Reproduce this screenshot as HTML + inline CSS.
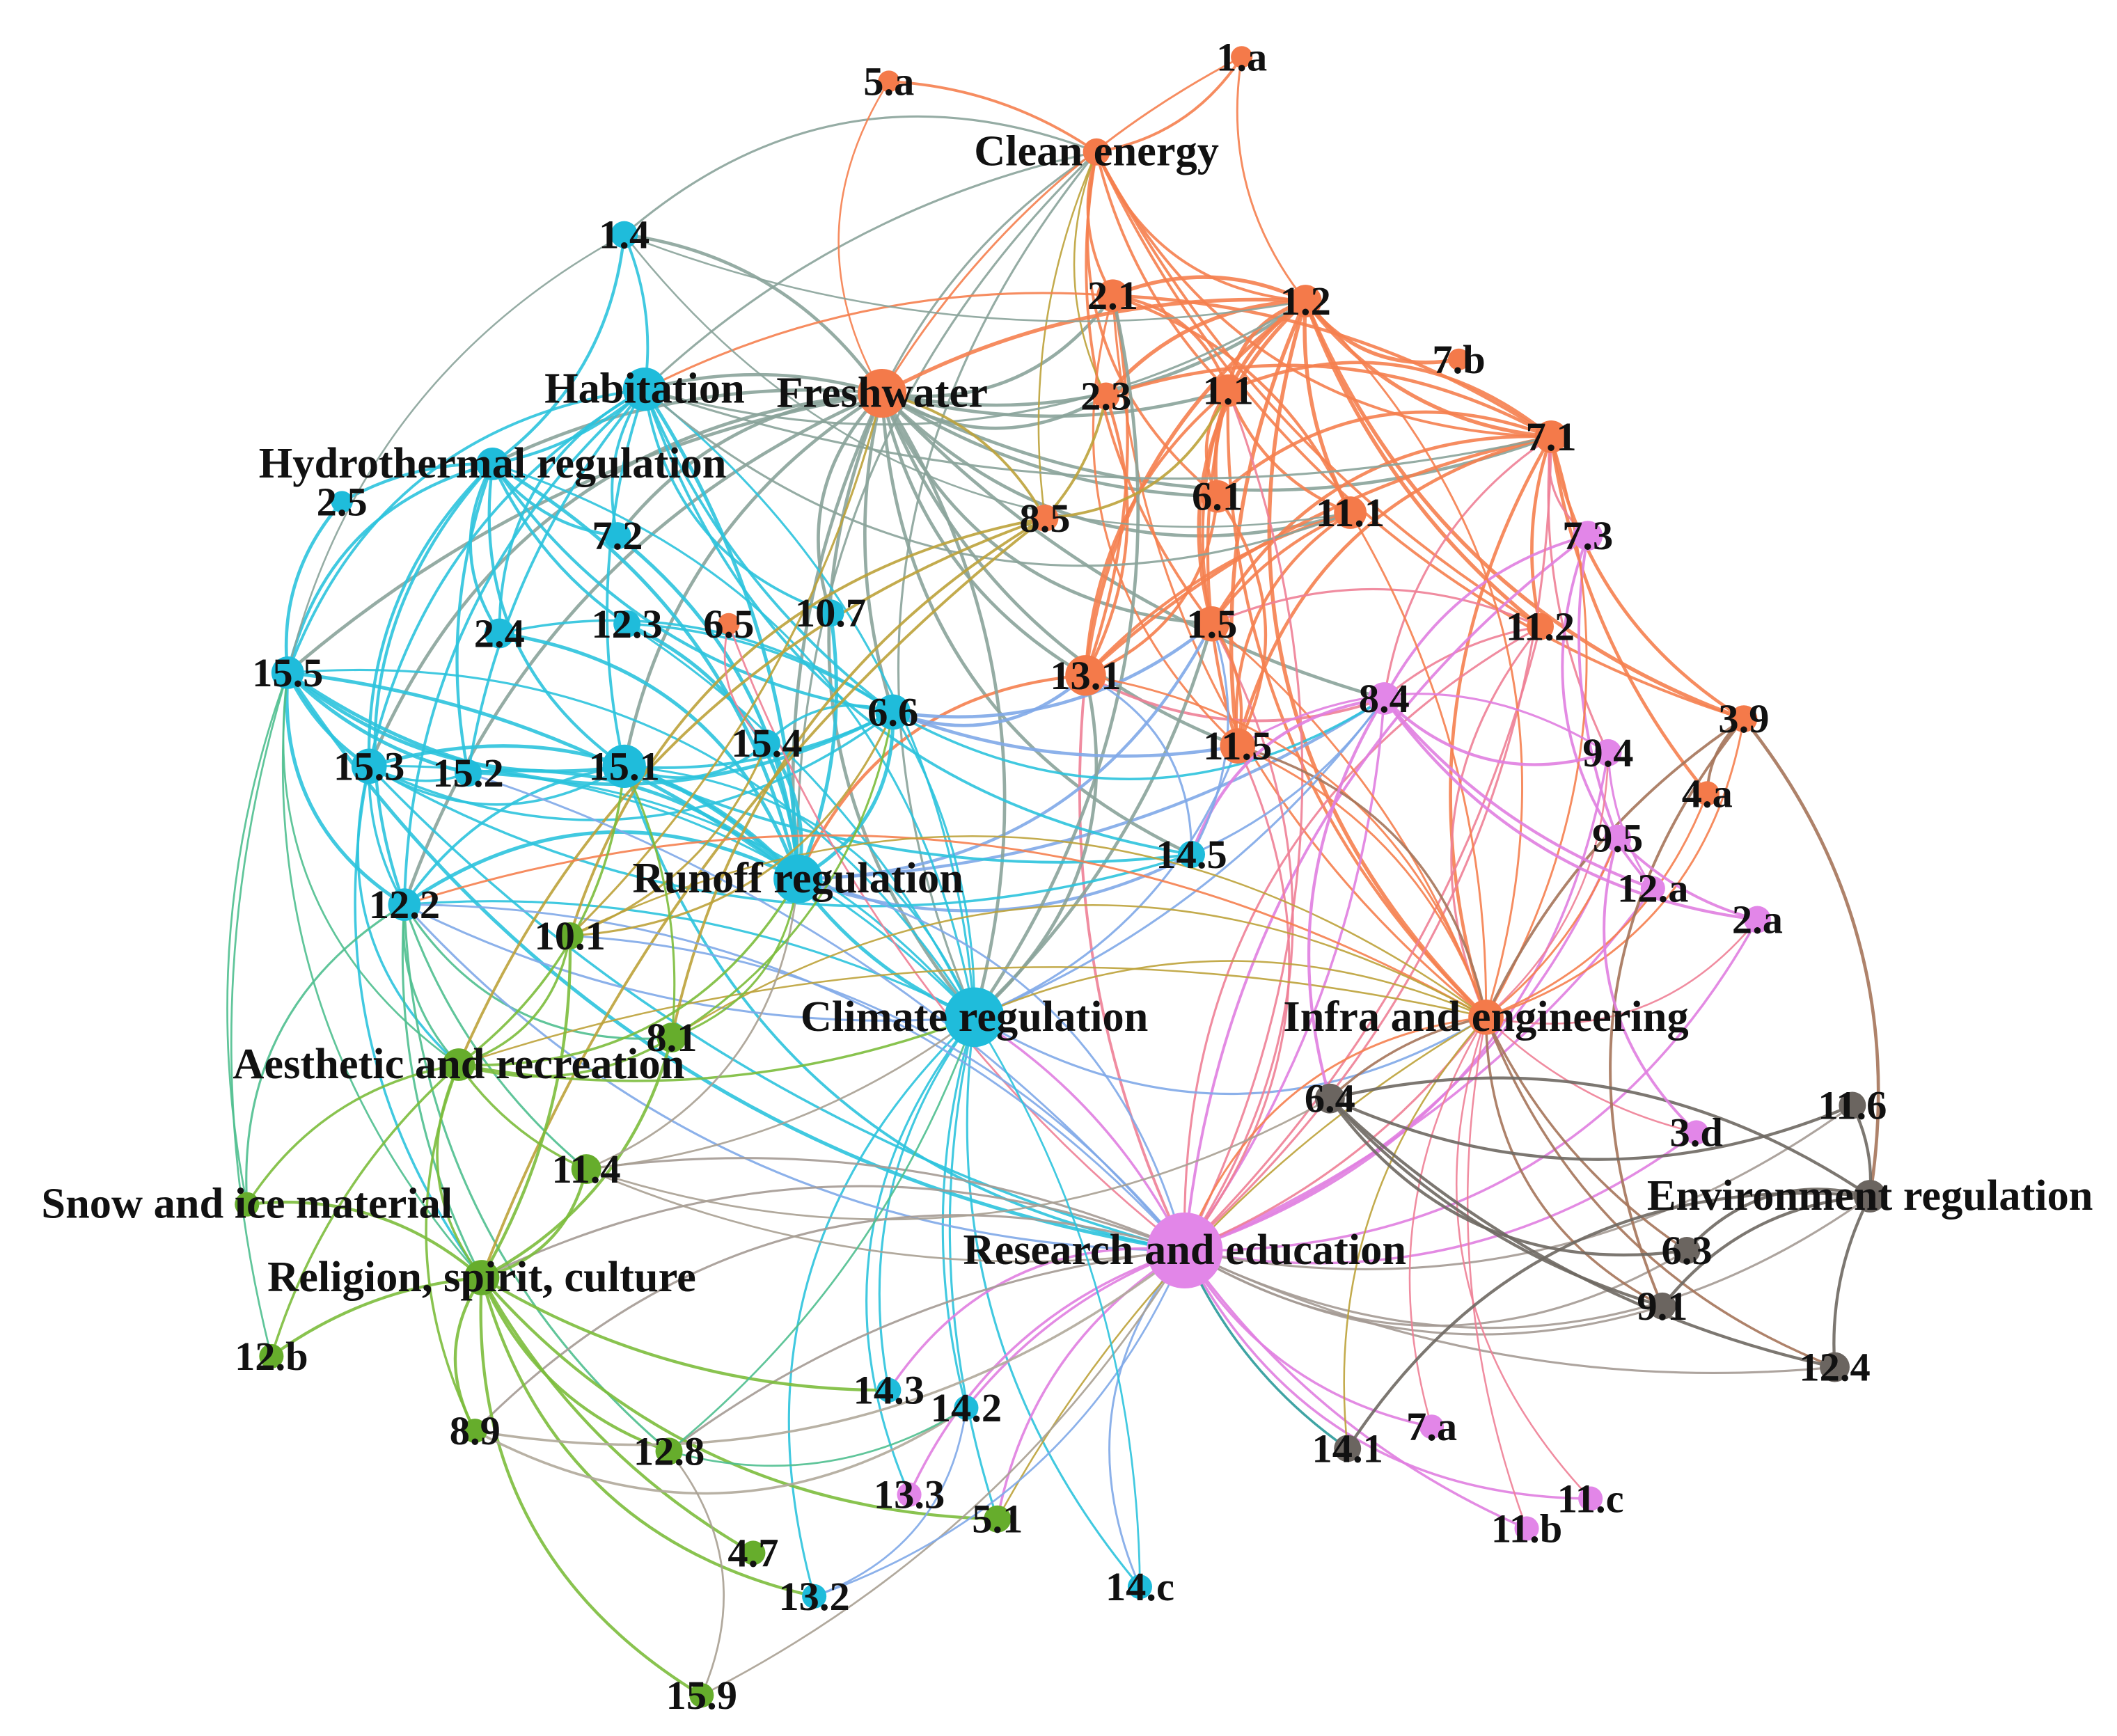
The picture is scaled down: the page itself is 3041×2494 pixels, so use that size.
<!DOCTYPE html>
<html><head><meta charset="utf-8"><style>
html,body{margin:0;padding:0;background:#fff;}
svg{display:block;}
text{font-family:"Liberation Serif",serif;font-weight:bold;fill:#111;}
</style></head><body>
<svg id="g" width="3041" height="2494" viewBox="0 0 1560 1280" preserveAspectRatio="none" xmlns="http://www.w3.org/2000/svg">
<g id="edges" fill="none" stroke-linecap="round"></g>
<g id="nodes"></g>
<g id="labels"></g>
</svg>
<script>
var C={o:"#f47a4a",c:"#1fbcdb",g:"#66ad2c",v:"#e286e8",k:"#6b6560"};
var N={
"5.a":[655,60,8,"o"],"1.a":[915,42,8,"o"],"Clean energy":[808,112,10,"o"],"Freshwater":[650,290,18,"o"],
"2.1":[820,218,12,"o"],"1.2":[962,222,12,"o"],"1.1":[905,288,12,"o"],"2.3":[815,292,10,"o"],"7.b":[1075,265,8,"o"],
"7.1":[1143,322,12,"o"],"6.1":[897,366,12,"o"],"11.1":[995,378,12,"o"],"8.5":[770,382,10,"o"],"1.5":[893,460,13,"o"],
"11.2":[1135,462,10,"o"],"13.1":[800,498,15,"o"],"11.5":[912,550,13,"o"],"3.9":[1285,530,10,"o"],"4.a":[1258,585,9,"o"],
"6.5":[537,460,8,"o"],"Infra and engineering":[1095,750,13,"o"],
"1.4":[460,173,10,"c"],"Habitation":[475,287,16,"c"],"Hydrothermal regulation":[363,342,12,"c"],"2.5":[252,370,8,"c"],
"7.2":[455,395,10,"c"],"12.3":[462,460,10,"c"],"10.7":[612,452,10,"c"],"2.4":[368,467,11,"c"],"15.5":[212,496,12,"c"],
"6.6":[658,525,13,"c"],"15.4":[565,548,10,"c"],"15.1":[460,565,16,"c"],"15.3":[272,565,13,"c"],"15.2":[345,570,10,"c"],
"Runoff regulation":[588,648,18,"c"],"14.5":[878,630,10,"c"],"12.2":[298,667,12,"c"],"Climate regulation":[718,750,22,"c"],
"14.3":[655,1025,9,"c"],"14.2":[712,1038,9,"c"],"13.2":[600,1177,9,"c"],"14.c":[840,1170,9,"c"],
"10.1":[420,690,10,"g"],"8.1":[495,765,11,"g"],"Aesthetic and recreation":[338,785,12,"g"],"Snow and ice material":[182,888,9,"g"],
"11.4":[432,862,11,"g"],"Religion, spirit, culture":[355,942,13,"g"],"12.b":[200,1000,9,"g"],"8.9":[350,1055,9,"g"],
"12.8":[493,1070,10,"g"],"4.7":[555,1145,9,"g"],"5.1":[735,1120,10,"g"],"15.9":[517,1250,9,"g"],
"7.3":[1170,395,11,"v"],"8.4":[1020,515,12,"v"],"9.4":[1185,555,10,"v"],"9.5":[1192,618,10,"v"],"12.a":[1218,655,9,"v"],
"2.a":[1295,678,10,"v"],"3.d":[1250,835,9,"v"],"Research and education":[873,922,28,"v"],"13.3":[670,1102,9,"v"],
"7.a":[1055,1052,9,"v"],"11.b":[1125,1127,9,"v"],"11.c":[1172,1105,9,"v"],
"6.4":[980,810,11,"k"],"11.6":[1365,815,10,"k"],"Environment regulation":[1378,882,12,"k"],"6.3":[1243,922,10,"k"],
"9.1":[1225,963,10,"k"],"12.4":[1352,1008,11,"k"],"14.1":[993,1068,10,"k"]
};
var E=[];
function add(a,list,col,w){list.forEach(function(b){E.push([a,b,col,w]);});}
var O="#f5804f",CY="#2cc3dd",G="#7cbc3c",V="#e07ee0",P="#ee7f96",GG="#8aa39a",OL="#bda23a",B="#80a8e8",BR="#a5745a",DK="#6e6862",TE="#2a9a9a",GT="#4fbf8f";
add("Freshwater",["1.4","Habitation","2.1","1.2","1.1","2.3","7.1","6.1","11.1","13.1","15.5","15.3","15.1","Runoff regulation","Climate regulation","12.2","Hydrothermal regulation","14.5","11.5","8.4","1.5","7.2","6.6","10.7"],GG,2.4);
add("Clean energy",["1.a","5.a","1.2","2.1","1.1","7.1","3.9","11.2","6.1","1.5"],O,2);
add("Clean energy",["Freshwater","Climate regulation","Runoff regulation","Habitation","1.4"],GG,1.6);
add("Clean energy",["2.3","8.5"],OL,1.3);
add("5.a",["Freshwater"],O,1.3);add("1.a",["1.2","Freshwater"],O,1.5);
add("1.2",["1.1","7.1","11.1","6.1","13.1","11.5","1.5","2.1","Freshwater","7.b","3.9","11.2","Infra and engineering","2.3"],O,2.8);
add("7.1",["11.2","1.1","2.3","13.1","11.5","3.9","4.a","1.5","Infra and engineering","2.1","6.1"],O,2.4);
add("7.1",["8.4","9.4","7.3"],P,1.6);
add("1.1",["13.1","11.5","6.1","11.1","1.5","2.1","Infra and engineering"],O,2.2);
add("11.1",["13.1","11.5","2.1","1.5"],O,2.2);
add("13.1",["6.1","2.3","2.1","Runoff regulation"],O,2.2);
add("13.1",["8.4","Research and education"],P,2);
add("2.1",["11.5","Infra and engineering","Habitation"],O,1.6);
add("11.2",["Infra and engineering","1.5","8.4","Research and education"],P,1.6);
add("7.3",["Research and education","9.5","12.a","8.4"],V,2);
add("Runoff regulation",["15.5","15.3","15.2","15.1","12.2","Hydrothermal regulation","Habitation","6.6","15.4","Climate regulation","2.4","7.2","10.7","12.3"],CY,2.6);
add("Runoff regulation",["14.5","8.4","1.5"],B,2.2);
add("Climate regulation",["14.3","14.2","13.2","14.c","5.1","15.1","15.3","12.2","Hydrothermal regulation","Habitation","6.6","15.5","15.2","12.3","13.3"],CY,1.6);
add("Climate regulation",["Freshwater","1.5","13.1","2.1"],GG,2.4);
add("Climate regulation",["8.4","Infra and engineering","11.5"],B,1.6);
add("Hydrothermal regulation",["2.5","15.5","15.3","15.2","2.4","7.2","12.3","15.1","1.4","Habitation","12.2","6.6"],CY,2.2);
add("Habitation",["1.4","15.5","15.3","15.2","2.4","7.2","6.6","10.7","12.2","15.1","14.5"],CY,2);
add("Habitation",["1.2","7.1","11.1"],GG,1.6);
add("1.4",["15.5","1.2","11.1"],GG,1.3);
add("2.5",["15.5"],CY,2.4);
add("15.5",["15.3","12.2","15.1","15.2","6.6","Research and education"],CY,2.6);
add("15.5",["Snow and ice material","Aesthetic and recreation","Religion, spirit, culture","12.b"],GT,1.4);
add("15.3",["15.1","15.2","12.2","6.6","14.5","Research and education","Aesthetic and recreation","Religion, spirit, culture"],CY,1.8);
add("15.1",["6.6","15.4","12.2","14.5","Research and education"],CY,2);
add("12.2",["Aesthetic and recreation","Religion, spirit, culture","Snow and ice material","12.8","11.4","8.1"],GT,1.6);
add("12.2",["Research and education","Climate regulation"],B,1.6);
add("6.6",["15.4","2.4","12.3","8.4"],CY,1.8);
add("6.6",["1.5","11.5","13.1"],B,2.4);
add("8.5",["Aesthetic and recreation","Religion, spirit, culture","10.1","Freshwater","2.3","1.1","8.1"],OL,2);
add("6.5",["Research and education","15.4"],P,1.4);
add("Research and education",["7.a","11.b","11.c","13.3","8.4","9.4","9.5","12.a","2.a","3.d","14.2","14.3","5.1","Climate regulation"],V,1.8);
add("Research and education",["1.5","7.1","11.2","11.5","1.1","Infra and engineering"],P,1.6);
add("Research and education",["Runoff regulation","12.2","15.2","14.c","10.1"],B,1.5);
add("Research and education",["14.1"],TE,1.8);
add("Research and education",["Environment regulation","11.6","12.4","6.3","9.1","12.8","8.9","Religion, spirit, culture","11.4"],"#a49a94",1.6);
add("Infra and engineering",["1.2","7.1","11.1","13.1","11.5","1.5","3.9","4.a","9.5","Research and education","12.2"],O,1.5);
add("Infra and engineering",["11.b","11.c","7.a","3.d","2.a","9.4"],P,1.3);
add("Infra and engineering",["6.3","9.1","12.4","6.4","11.5"],BR,1.8);
add("Infra and engineering",["Climate regulation","Aesthetic and recreation","8.1","14.1","5.1","10.1"],OL,1.3);
add("Environment regulation",["3.9"],BR,2.4);
add("3.9",["Infra and engineering","9.1","4.a"],BR,2);
add("Environment regulation",["11.6","6.3","9.1","12.4","14.1","6.4"],DK,2.2);
add("6.4",["9.1","6.3","11.6","12.4"],DK,2.2);
add("8.4",["9.4","2.a","12.a","14.5","6.4"],V,2.2);
add("9.5",["2.a","3.d"],V,2);
add("Aesthetic and recreation",["Snow and ice material","12.b","Religion, spirit, culture","8.1","11.4","10.1","8.9","Climate regulation","Runoff regulation","15.1"],G,1.8);
add("Religion, spirit, culture",["12.b","8.9","12.8","4.7","15.9","5.1","14.3","11.4","8.1","10.1","13.2","Snow and ice material"],G,2.2);
add("11.4",["Climate regulation","Runoff regulation","6.4","Research and education"],"#a8a092",1.4);
add("8.9",["14.2","Research and education"],"#b0a89a",1.8);
add("15.9",["Research and education","12.8"],"#a8a092",1.4);
add("12.8",["14.2","Climate regulation"],GT,1.4);
add("13.2",["14.2","Research and education"],B,1.4);
add("14.c",["Climate regulation"],CY,1.4);
add("10.1",["6.6","15.4","Freshwater"],OL,1.6);
add("8.1",["Runoff regulation","6.6","15.1"],G,1.6);
add("14.5",["13.1","1.5","8.4"],B,1.6);
add("11.5",["6.1","1.5"],O,2.2);
add("9.4",["12.a","11.5"],V,1.6);
var eg=document.getElementById("edges"),ng=document.getElementById("nodes"),lg=document.getElementById("labels"),ns="http://www.w3.org/2000/svg";
E.forEach(function(e,i){var a=N[e[0]],b=N[e[1]];if(!a||!b)return;
var dx=b[0]-a[0],dy=b[1]-a[1];var k=(i%3==0?0.22:(i%3==1?0.14:0.3));
var cx=(a[0]+b[0])/2-dy*k,cy=(a[1]+b[1])/2+dx*k;
var p=document.createElementNS(ns,"path");p.setAttribute("d","M"+a[0]+" "+a[1]+"Q"+cx.toFixed(1)+" "+cy.toFixed(1)+" "+b[0]+" "+b[1]);
p.setAttribute("stroke",e[2]);p.setAttribute("stroke-width",e[3]);p.setAttribute("stroke-opacity","0.9");eg.appendChild(p);});
for(var n in N){var d=N[n];var c=document.createElementNS(ns,"circle");c.setAttribute("cx",d[0]);c.setAttribute("cy",d[1]);c.setAttribute("r",d[2]);c.setAttribute("fill",C[d[3]]);ng.appendChild(c);
var t=document.createElementNS(ns,"text");t.setAttribute("x",d[0]);t.setAttribute("y",d[1]+10);t.setAttribute("text-anchor","middle");t.setAttribute("font-size",n.length>5?32:30);t.textContent=n;lg.appendChild(t);}
</script>
</body></html>
